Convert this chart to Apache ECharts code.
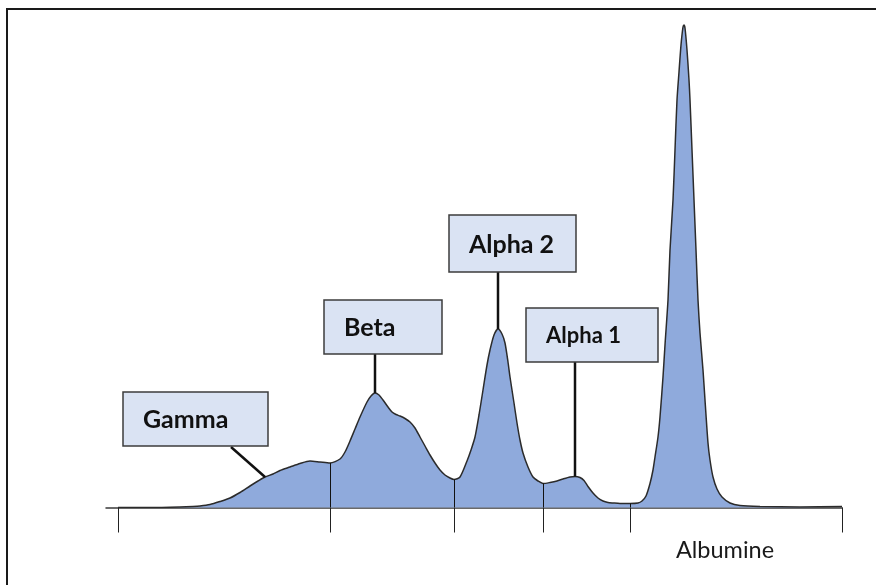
<!DOCTYPE html>
<html>
<head>
<meta charset="utf-8">
<script src="https://cdn.jsdelivr.net/npm/echarts@6/dist/echarts.min.js"></script>
<style>
html,body{margin:0;padding:0;background:#fff;}
#c{width:876px;height:585px;}
</style>
</head>
<body>
<div id="c"></div>
<script>
// Migration position (arbitrary units) and optical density (arbitrary units)
var positions = [0,32,62,75,82,92,102,112,122,132,140,147,155,162,172,182,192,202,212,222,227,232,237,242,249,253,257,261,265,270,274,278,282,287,292,297,302,307,312,317,322,327,332,336,342,349,353,357,361,365,369,372,376,380,384,387,390,392,396,399,402,405,410,415,420,425,432,439,445,452,457,462,466,470,475,480,485,490,495,502,512,520,524,528,532,535,537,540,542,545,547,550,552,555,557,559,561,563,565,566,567,569,571,572,574,576,578,580,582,585,587,590,592,595,599,604,612,622,642,682,724];
var density = [0,0,0.5,1,1.5,3,6,9.5,15,21.5,26.5,30.5,33.5,37,40.5,44,46.5,45.5,44.5,48.5,55.5,66.5,78.5,90.5,105.5,111.5,114.5,112.5,107.5,100.5,95.5,93,91.5,89,85.5,79.5,70.5,61.5,52.5,44.5,37.5,32.5,29.5,28,30.5,46.5,57.5,70.5,92.5,117.5,142.5,157.5,172.5,178.5,173.5,164.5,145.5,130.5,104.5,84.5,67.5,54.5,40.5,30.5,26.5,24,25,26.5,28.5,30.5,31,30,27,21,14.5,9.5,6.5,5,4.5,4,4,4.5,6.5,11.5,24,37.5,50.5,70.5,90.5,130.5,162.5,207.5,257.5,307.5,357.5,407.5,435.5,462.5,480.5,482.5,479.5,457.5,427.5,407.5,357.5,307.5,257.5,207.5,174.5,137.5,107.5,64.5,47.5,30.5,18.5,10.5,4.5,2,1,0.5,1];
// Fraction boundaries and axis ticks
var boundaries = [212, 336, 425, 512];
var tickValues = [0, 212, 336, 425, 512, 724];
// Fraction labels and the peak each points to
var fractionNames = ['Gamma', 'Beta', 'Alpha 2', 'Alpha 1'];
var fractionPeakPos = [147, 257, 380, 457];
var regionName = 'Albumine';

function densityAt(p){ return density[positions.indexOf(p)]; }

var chart = echarts.init(document.getElementById('c'), null, {renderer:'canvas'});
var data = positions.map(function(p,i){ return [p, density[i]]; });

chart.setOption({
  animation:false,
  backgroundColor:'#ffffff',
  grid:{left:106, right:34, top:7.5, bottom:77.5},
  xAxis:{type:'value', min:-12, max:724,
    axisLine:{show:true, lineStyle:{color:'#3a3a3a', width:1.5}},
    axisTick:{show:true, customValues:tickValues, length:25, lineStyle:{color:'#222', width:1}},
    axisLabel:{show:false}, splitLine:{show:false}},
  yAxis:{type:'value', min:0, max:500, show:false, splitLine:{show:false}},
  series:[{
    type:'line', data:data, smooth:0.25, symbol:'none',
    lineStyle:{color:'#2b2b2b', width:1.5},
    areaStyle:{color:'#8faadc', opacity:1},
    z:2,
    markLine:{silent:true, symbol:['none','none'], label:{show:false},
      lineStyle:{color:'#111', width:1, type:'solid'},
      data: boundaries.map(function(b){ return [{coord:[b,0]},{coord:[b,densityAt(b)]}]; })
    }
  }]
});

// Annotation boxes (layout)
var boxes = [
  {rect:[123,392,145,54], from:[231,447], size:25},
  {rect:[324,300,118,54], from:[375,354], size:25},
  {rect:[449,215,127,57], from:[498,272], size:25},
  {rect:[526,308,132,54], from:[575,362], size:22}
];
var elems = [];
elems.push({type:'rect', shape:{x:7,y:9,width:900,height:620}, style:{fill:null, stroke:'#1a1a1a', lineWidth:2}, z:0});
boxes.forEach(function(b,i){
  var pk = chart.convertToPixel({gridIndex:0}, [fractionPeakPos[i], densityAt(fractionPeakPos[i])]);
  elems.push({type:'line', shape:{x1:b.from[0], y1:b.from[1], x2:pk[0], y2:pk[1]}, style:{stroke:'#111', lineWidth:2.5}, z:10});
  elems.push({type:'rect', shape:{x:b.rect[0], y:b.rect[1], width:b.rect[2], height:b.rect[3]}, style:{fill:'#dae3f3', stroke:'#3c3c3c', lineWidth:1.5}, z:11});
  elems.push({type:'text', x:b.rect[0]+20, y:b.rect[1]+b.rect[3]/2+1, style:{text:fractionNames[i], fill:'#111', font:'bold '+b.size+'px Lato', textAlign:'left', textVerticalAlign:'middle'}, z:12});
});
elems.push({type:'text', x:725, y:550, style:{text:regionName, fill:'#1a1a1a', font:'23.5px Lato', textAlign:'center', textVerticalAlign:'middle'}, z:12});
chart.setOption({graphic:elems});
</script>
</body>
</html>
